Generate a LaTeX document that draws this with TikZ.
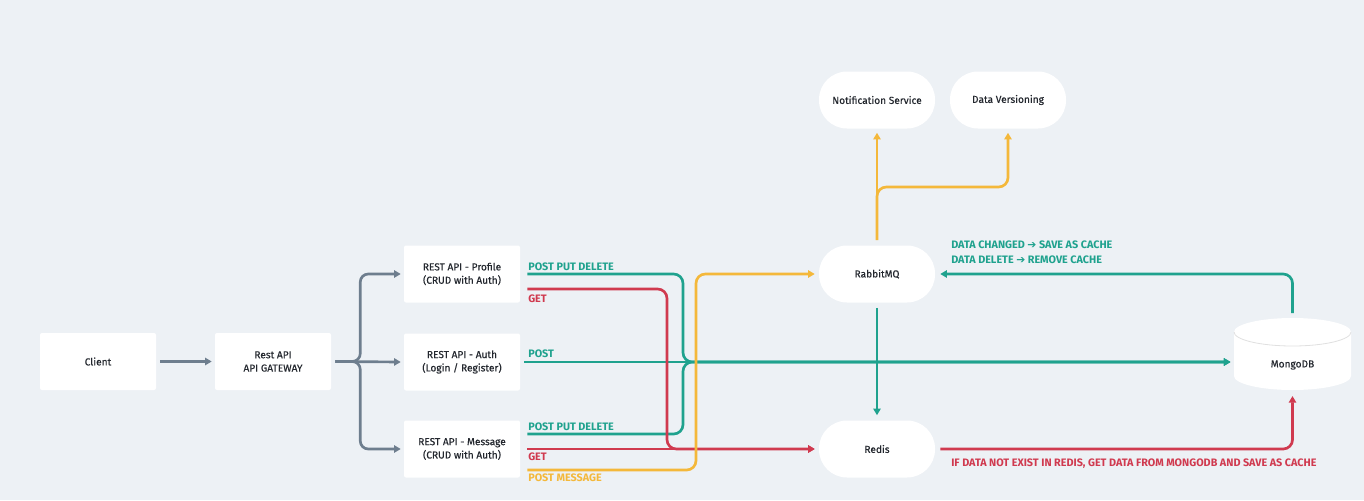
\documentclass[tikz,border=0pt]{standalone}
\usepackage{fontspec}
\setmainfont{Fira Sans}
\newfontfamily\nodefont[FakeBold=0.35]{Fira Sans}
\newfontfamily\symfont{DejaVu Sans}
\usetikzlibrary{arrows.meta,calc}
\definecolor{bg}{HTML}{EDF1F5}
\definecolor{tealc}{HTML}{1FA28E}
\definecolor{redc}{HTML}{D03A4F}
\definecolor{yelc}{HTML}{F4B83A}
\definecolor{grayc}{HTML}{6E7E8E}
\definecolor{ink}{HTML}{23272E}
\begin{document}
\begin{tikzpicture}[x=0.75pt,y=-0.75pt,
  box/.style={fill=white, rounded corners=1.5pt, minimum width=87pt, minimum height=42.75pt,
    align=center, font=\nodefont\fontsize{7.6}{10}\selectfont, text=ink, inner sep=0pt},
  pill/.style={box, rounded corners=21pt},
  conn/.style={line width=2pt, -{Triangle[length=5pt,width=5.5pt]}},
  lbl/.style={font=\bfseries\fontsize{8.1}{9}\selectfont, inner sep=0pt, anchor=west}
]
\fill[bg] (0,0) rectangle (1364,500);
\useasboundingbox (0,0) rectangle (1364,500);

% nodes
\node[box] (client) at (98,361.5) {Client};
\node[box] (gw) at (273,361.5) {Rest API\\API GATEWAY};
\node[box] (prof) at (462,274) {REST API - Profile\\(CRUD with Auth)};
\node[box] (auth) at (462,362) {REST API - Auth\\(Login / Register)};
\node[box] (msg) at (462,449) {REST API - Message\\(CRUD with Auth)};
\node[pill] (rmq) at (877,274) {RabbitMQ};
\node[pill] (redis) at (877,449) {Redis};
\node[pill] (notif) at (877,100) {Notification Service};
\node[pill] (dver) at (1008,100) {Data Versioning};

% MongoDB cylinder
\fill[white] (1234,332) -- (1234,376)
  arc[start angle=180, end angle=360, x radius=43.875pt, y radius=10.5pt]
  -- (1351,332)
  arc[start angle=0, end angle=180, x radius=43.875pt, y radius=10.5pt] -- cycle;
\draw[black!12, line width=0.6pt] (1234,332)
  arc[start angle=180, end angle=360, x radius=43.875pt, y radius=10.5pt];
\node[font=\nodefont\fontsize{7.6}{9}\selectfont, text=ink, inner sep=0pt] (mongo) at (1292.5,365) {MongoDB};

% gray connectors
\draw[conn, grayc] ($(client.east)+(4,0)$) -- ($(gw.west)+(-3,0)$);
\draw[conn, grayc, rounded corners=6] ($(gw.east)+(4,0)$) -- ($(gw.east)+(29,0)$) |- ($(prof.west)+(-3,0)$);
\draw[conn, grayc, rounded corners=6] ($(gw.east)+(4,0)$) -- ($(gw.east)+(29,0)$) |- ($(msg.west)+(-3,0)$);
\draw[conn, grayc] ($(gw.east)+(4,0)$) -- ($(auth.west)+(-3,0)$);

% teal to MongoDB
\draw[conn, tealc, rounded corners=7] ($(prof.east)+(7,0)$) -- (683,274) -- (683,362) -- ($(mongo)+(-62,-3)$);
\draw[conn, tealc, rounded corners=7] ($(msg.east)+(7,-15)$) -- (683,434) -- (683,362) -- ($(mongo)+(-62,-3)$);
\draw[conn, tealc] ($(auth.east)+(4,0)$) -- ($(mongo)+(-62,-3)$);

% red to Redis
\draw[conn, redc, rounded corners=7] ($(prof.east)+(7,15)$) -- (667,289) -- (667,449) -- ($(redis.west)+(-4,0)$);
\draw[conn, redc] ($(msg.east)+(7,0)$) -- ($(redis.west)+(-4,0)$);

% yellow to RabbitMQ
\draw[conn, yelc, rounded corners=7] ($(msg.east)+(7,21)$) -- (696,470) -- (696,274) -- ($(rmq.west)+(-4,0)$);

% RabbitMQ to Redis
\draw[conn, tealc] ($(rmq.south)+(0,5)$) -- ($(redis.north)+(0,-5)$);

% RabbitMQ up
\draw[conn, yelc] ($(rmq.north)+(0,-5)$) -- ($(notif.south)+(0,4)$);
\draw[conn, yelc, rounded corners=7] ($(rmq.north)+(0,-5)$) -- (877,187) -- (1008,187) -- ($(dver.south)+(0,4)$);

% MongoDB to RabbitMQ
\draw[conn, tealc, rounded corners=7] ($(mongo)+(0,-52)$) -- (1292.5,274) -- ($(rmq.east)+(5,0)$);

% Redis to MongoDB
\draw[conn, redc, rounded corners=7] ($(redis.east)+(5,0)$) -- (1292.5,449) -- ($(mongo)+(0,31)$);

% labels
\node[lbl, text=tealc] (l1) at (528,267) {POST PUT DELETE};
\node[lbl, text=redc] (l2) at (528,299) {GET};
\node[lbl, text=tealc] (l3) at (528,354) {POST};
\node[lbl, text=tealc] (l4) at (528,427) {POST PUT DELETE};
\node[lbl, text=redc] (l5) at (528,456.5) {GET};
\node[lbl, text=yelc] (l6) at (528,478) {POST MESSAGE};
\node[lbl, text=tealc] (l7) at (951,245) {DATA CHANGED {\symfont\char"2794} SAVE AS CACHE};
\node[lbl, text=tealc] (l8) at (951,260) {DATA DELETE {\symfont\char"2794} REMOVE CACHE};
\node[lbl, text=redc] (l9) at (951,463.5) {IF DATA NOT EXIST IN REDIS, GET DATA FROM MONGODB AND SAVE AS CACHE};
\end{tikzpicture}
\end{document}
